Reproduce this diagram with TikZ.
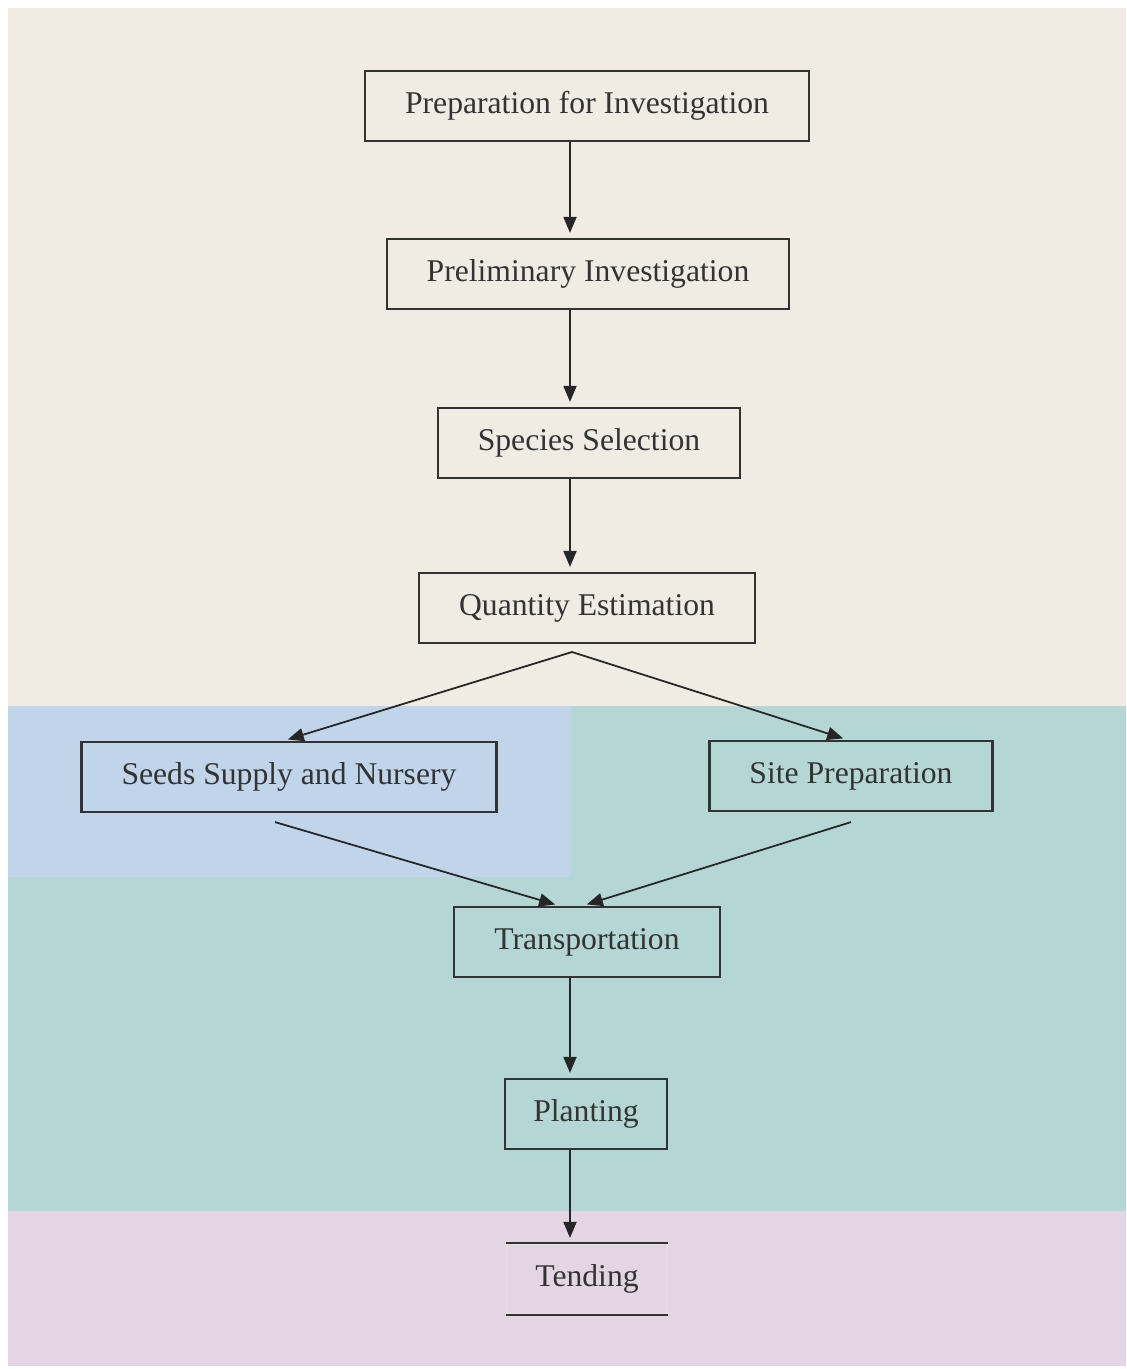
\documentclass[tikz,border=0pt]{standalone}
\usepackage{fontspec}
\setmainfont{Liberation Serif}
\usepackage{tikz}
\usetikzlibrary{calc,arrows.meta,positioning}
\definecolor{bgbeige}{RGB}{240,236,228}
\definecolor{bgblue}{RGB}{192,213,234}
\definecolor{bgteal}{RGB}{180,215,214}
\definecolor{bgpink}{RGB}{227,213,227}

\begin{document}
\begin{tikzpicture}[x=0.01cm,y=-0.01cm,
     box/.style={draw=black!80,line width=0.6pt,inner xsep=0.4cm,minimum height=0.7cm,
       text=black!80,font=\fontsize{9}{11}\selectfont},
     arr/.style={-{Triangle[length=1.6mm,width=1.3mm]},line width=0.5pt,black!85,shorten >=0.5mm}]
   \useasboundingbox (0,0) rectangle (1126,1369);
   \fill[bgbeige] (8,8) rectangle (1126,706);
   \fill[bgblue] (8,706) rectangle (571,877);
   \fill[bgteal] (571,706) rectangle (1126,877);
   \fill[bgteal] (8,877) rectangle (1126,1211);
   \fill[bgpink] (8,1211) rectangle (1126,1366);
   \node[box] (prep) at (587,106) {Preparation for Investigation};
   \node[box] (prel) at (588,274) {Preliminary Investigation};
   \node[box] (spec) at (589,443) {Species Selection};
   \node[box] (quant) at (587,608) {Quantity Estimation};
   \node[box] (seeds) at (289,777) {Seeds Supply and Nursery};
   \node[box] (site) at (851,776) {Site Preparation};
   \node[box] (trans) at (587,942) {Transportation};
   \node[box,inner xsep=0.28cm] (plant) at (586,1114) {Planting};
   \node[box,inner xsep=0.28cm,draw=black!12] (tend) at (587,1279) {Tending};
   \draw[black!80,line width=0.6pt] (tend.north west) -- (tend.north east);
   \draw[black!80,line width=0.6pt] (tend.south west) -- (tend.south east);
   \coordinate (split) at (572,652);
   \draw[arr] ($(prep.south)+(-17,0)$) -- ($(prel.north)+(-18,0)$);
   \draw[arr] ($(prel.south)+(-18,0)$) -- ($(spec.north)+(-19,0)$);
   \draw[arr] ($(spec.south)+(-19,0)$) -- ($(quant.north)+(-17,0)$);
   \draw[arr] (split) -- ($(seeds.north)+(-6,0)$);
   \draw[arr] (split) -- ($(site.north)+(-3,0)$);
   \draw[arr] ($(seeds.south)+(-14,9)$) -- ($(trans.north)+(-27,0)$);
   \draw[arr] ($(site.south)+(0,10)$) -- ($(trans.north)+(-5,0)$);
   \draw[arr] ($(trans.south)+(-17,0)$) -- ($(plant.north)+(-16,0)$);
   \draw[arr] ($(plant.south)+(-16,0)$) -- ($(tend.north)+(-17,0)$);
\end{tikzpicture}
\end{document}
